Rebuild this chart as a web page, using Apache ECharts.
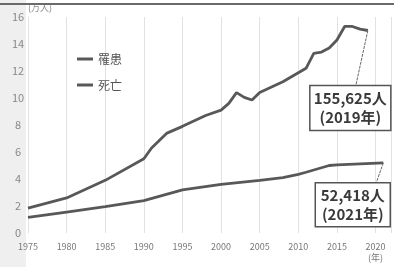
<!DOCTYPE html>
<html>
<head>
<meta charset="utf-8">
<script src="https://cdn.jsdelivr.net/npm/echarts@6/dist/echarts.min.js"></script>
<style>
  html, body { margin: 0; padding: 0; background: #fff; }
  #chart { width: 394px; height: 267px; }
</style>
</head>
<body>
<div id="chart"></div>
<script>
// 罹患 (万人)
const incYears = [1975, 1980, 1985, 1990, 1991, 1993, 1995, 1998, 2000, 2001, 2002, 2003, 2004, 2005, 2008, 2011, 2012, 2013, 2014, 2015, 2016, 2017, 2018, 2019];
const incValues = [1.85, 2.6, 3.9, 5.5, 6.3, 7.4, 7.9, 8.7, 9.1, 9.6, 10.4, 10.05, 9.85, 10.4, 11.2, 12.2, 13.3, 13.4, 13.7, 14.3, 15.3, 15.3, 15.1, 15.0];
// 死亡 (万人)
const deathYears = [1975, 1980, 1985, 1990, 1995, 2000, 2005, 2008, 2010, 2011, 2014, 2015, 2021];
const deathValues = [1.15, 1.55, 1.95, 2.4, 3.2, 3.6, 3.9, 4.1, 4.35, 4.5, 5.0, 5.05, 5.2];
const yTicks = [0, 2, 4, 6, 8, 10, 12, 14, 16];
const xTicks = [1975, 1980, 1985, 1990, 1995, 2000, 2005, 2010, 2015, 2020];
const seriesNames = ['罹患', '死亡'];
const callouts = [
  { series: 0, text: '155,625人', sub: '(2019年)' },
  { series: 1, text: '52,418人', sub: '(2021年)' }
];

const pairs = (xs, ys) => xs.map((x, i) => [x, ys[i]]);
const lineColor = '#585858';
const font = '"Noto Sans CJK JP", "Noto Sans", sans-serif';

const chart = echarts.init(document.getElementById('chart'));
chart.setOption({
  animation: false,
  backgroundColor: '#fff',
  textStyle: { fontFamily: font },
  grid: { left: 28, right: 1, top: 17, bottom: 34 },
  legend: {
    orient: 'vertical',
    left: 72,
    top: 48,
    icon: 'rect',
    itemWidth: 16,
    itemHeight: 3,
    itemGap: 14,
    textStyle: { fontSize: 12, color: '#555', fontFamily: font },
    data: seriesNames
  },
  xAxis: {
    type: 'value',
    min: xTicks[0],
    max: 2022,
    interval: 5,
    axisLine: { show: false },
    axisTick: { show: false },
    splitLine: { show: true, lineStyle: { color: '#e2e2e2', width: 1 } },
    axisLabel: {
      fontSize: 9,
      color: '#777',
      margin: 8,
      lineHeight: 11,
      formatter: v => xTicks.includes(v) ? (v === 2020 ? '2020\n(年)' : String(v)) : ''
    }
  },
  yAxis: {
    type: 'value',
    min: yTicks[0],
    max: yTicks[yTicks.length - 1],
    interval: 2,
    name: '(万人)',
    nameLocation: 'end',
    nameGap: 2,
    nameTextStyle: { fontSize: 9, color: '#888', align: 'left', padding: [0, 0, 0, 0] },
    axisLine: { show: true, lineStyle: { color: '#e2e2e2' } },
    axisTick: { show: false },
    splitLine: { show: false },
    axisLabel: { fontSize: 11, color: '#888', margin: 10, align: 'center' }
  },
  series: [
    {
      name: seriesNames[0],
      type: 'line',
      symbol: 'none',
      lineStyle: { color: lineColor, width: 2.8 },
      itemStyle: { color: lineColor },
      data: pairs(incYears, incValues)
    },
    {
      name: seriesNames[1],
      type: 'line',
      symbol: 'none',
      lineStyle: { color: lineColor, width: 2.8 },
      itemStyle: { color: lineColor },
      data: pairs(deathYears, deathValues)
    }
  ]
});

// callout boxes anchored to each line's last point
const ends = [
  [incYears[incYears.length - 1], incValues[incValues.length - 1]],
  [deathYears[deathYears.length - 1], deathValues[deathValues.length - 1]]
];
const offsets = [{ bx: -58, by: 55, w: 81, h: 45, lx: -12 }, { bx: -68, by: 20, w: 75, h: 44, lx: -7 }];
const graphics = [
  { type: 'rect', left: 0, top: 0, z: -10, shape: { width: 26, height: 267 }, style: { fill: '#efefef' } },
  { type: 'rect', left: 0, top: 3, z: 10, shape: { width: 394, height: 2 }, style: { fill: '#6a6a6a' } }
];
callouts.forEach((c, i) => {
  const p = chart.convertToPixel({ gridIndex: 0 }, ends[i]);
  const o = offsets[i];
  const bx = p[0] + o.bx, by = p[1] + o.by;
  graphics.push({
    type: 'line', z: 20,
    shape: { x1: p[0], y1: p[1], x2: p[0] + o.lx, y2: by },
    style: { stroke: '#666', lineWidth: 1, lineDash: [3, 1] }
  });
  graphics.push({
    type: 'rect', z: 21,
    shape: { x: bx, y: by, width: o.w, height: o.h },
    style: { fill: '#fff', stroke: '#555', lineWidth: 1.5 }
  });
  graphics.push({
    type: 'text', z: 22,
    x: bx + o.w / 2, y: by + o.h / 2,
    style: {
      text: c.text + '\n' + c.sub,
      align: 'center', verticalAlign: 'middle',
      font: 'bold 15px ' + font,
      lineHeight: 19,
      fill: '#3a3a3a'
    }
  });
});
chart.setOption({ graphic: graphics });
</script>
</body>
</html>
